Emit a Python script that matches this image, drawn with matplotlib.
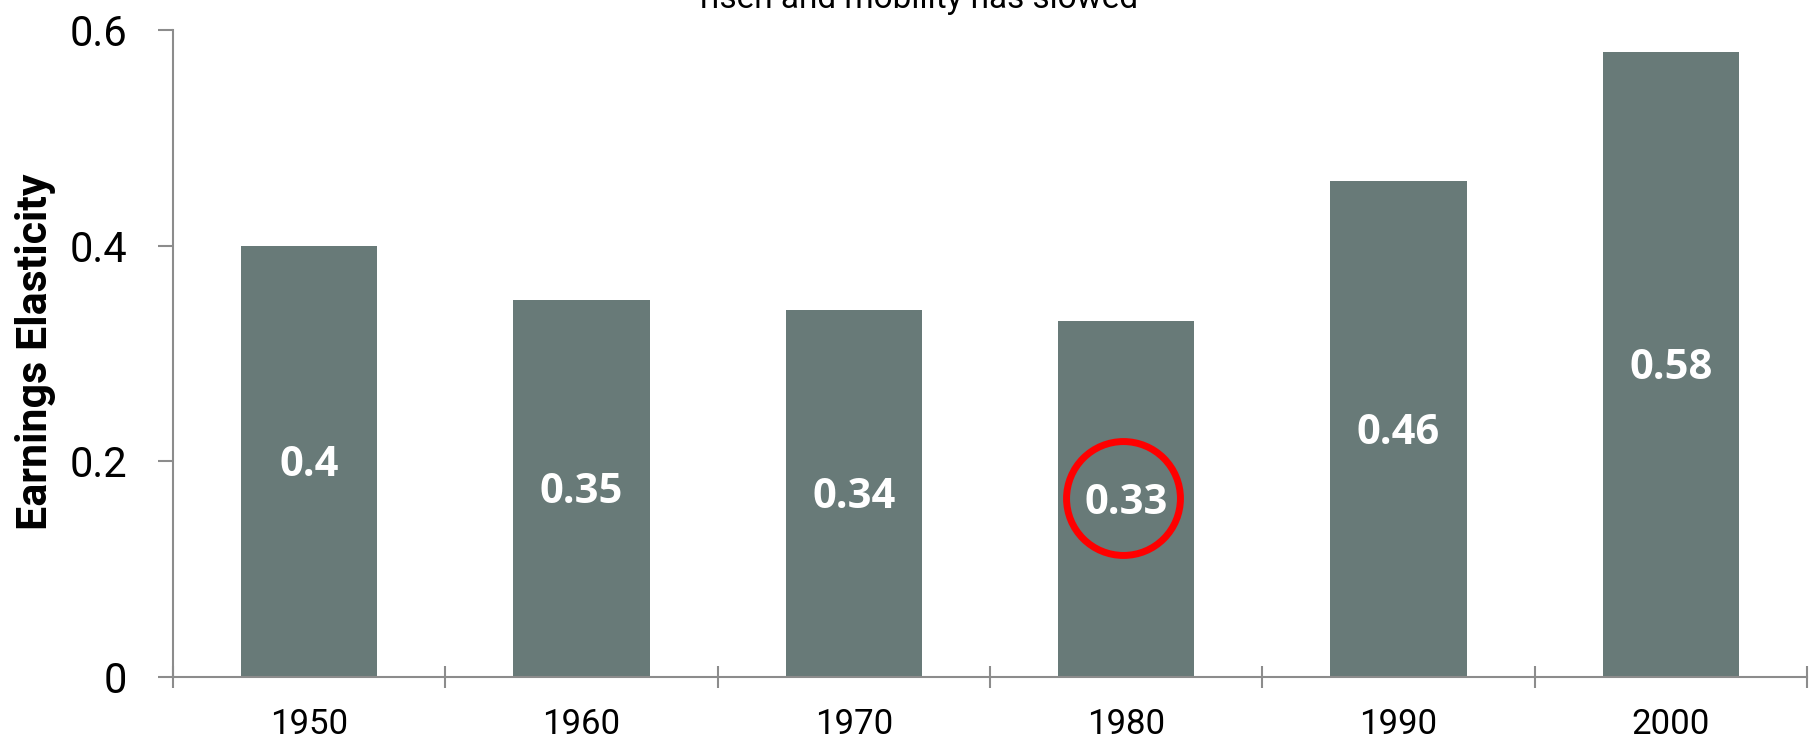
import matplotlib
matplotlib.use("Agg")
import matplotlib.pyplot as plt

decades = ["1950", "1960", "1970", "1980", "1990", "2000"]
elasticity = [0.40, 0.35, 0.34, 0.33, 0.46, 0.58]
value_labels = ["0.4", "0.35", "0.34", "0.33", "0.46", "0.58"]
y_ticks = [0, 0.2, 0.4, 0.6]
y_tick_labels = ["0", "0.2", "0.4", "0.6"]
highlight_decade = "1980"

BAR = "#687A78"
SPINE = "#8C8C8C"
FONT = "Roboto"

fig = plt.figure(figsize=(18.13, 7.4), dpi=100)
ax = fig.add_axes([173 / 1813, 1 - 677 / 740, (1807 - 173) / 1813, (677 - 30) / 740])

x = list(range(len(decades)))
ax.bar(x, elasticity, width=0.5, color=BAR, zorder=2)
ax.set_xlim(-0.5, len(decades) - 0.5)
ax.set_ylim(0, 0.6)

for xi, v, lab in zip(x, elasticity, value_labels):
    ax.text(xi, v / 2 - 0.004, lab, ha="center", va="center", color="white",
            fontsize=30, fontweight="bold", family="Open Sans", zorder=3)

hi = decades.index(highlight_decade)
ax.plot([hi - 0.011], [0.1656], marker="o", markersize=82, markerfacecolor="none",
        markeredgecolor="#FF0000", markeredgewidth=5, zorder=4)

# Excel-style category axis: ticks between categories, labels centred on bars
ax.set_xticks([i - 0.5 for i in range(len(decades) + 1)])
ax.set_xticklabels([])
ax.set_xticks(x, minor=True)
ax.set_xticklabels(decades, minor=True, fontsize=25, family=FONT)
ax.tick_params(axis="x", which="major", direction="inout", length=16, width=1.5, color=SPINE)
ax.tick_params(axis="x", which="minor", length=0, pad=22)

ax.set_yticks(y_ticks)
ax.set_yticklabels(y_tick_labels, fontsize=30, family=FONT)
ax.tick_params(axis="y", direction="out", length=11, width=1.5, color=SPINE, pad=22)

for s in ["top", "right"]:
    ax.spines[s].set_visible(False)
for s in ["left", "bottom"]:
    ax.spines[s].set_color(SPINE)
    ax.spines[s].set_linewidth(1.5)

fig.text(36 / 1813, 1 - 352 / 740, "Earnings Elasticity", rotation=90, ha="center",
         va="center", fontsize=31, fontweight="bold", family=FONT)

fig.text(919 / 1813, 1 - 8 / 740, "risen and mobility has slowed", ha="center",
         va="baseline", fontsize=24, family=FONT)

fig.savefig("out.png", dpi=100)
